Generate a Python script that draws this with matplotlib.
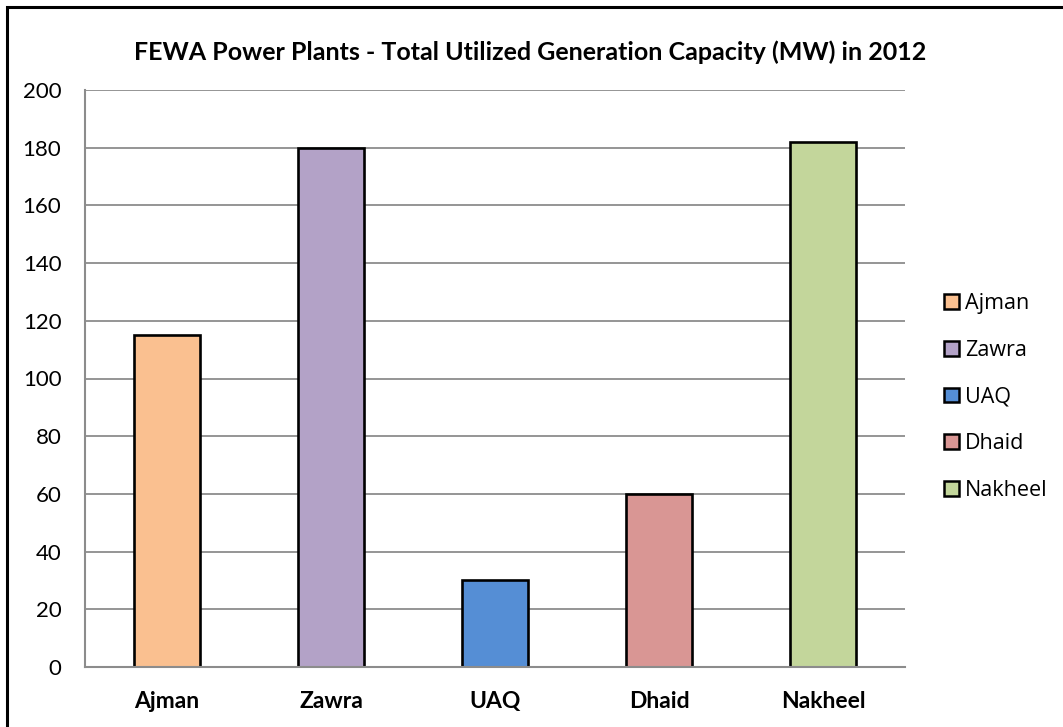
import matplotlib
matplotlib.use("Agg")
import matplotlib.pyplot as plt
from matplotlib.patches import Patch, Rectangle

categories = ["Ajman", "Zawra", "UAQ", "Dhaid", "Nakheel"]
values = [115, 180, 30, 60, 182]
colors = ["#FAC090", "#B3A2C7", "#558ED5", "#D99694", "#C3D69B"]
yticks = [0, 20, 40, 60, 80, 100, 120, 140, 160, 180, 200]
title = "FEWA Power Plants - Total Utilized Generation Capacity (MW) in 2012"

W, H = 1063, 727
fig = plt.figure(figsize=(W / 100, H / 100), dpi=100)
fig.patch.set_facecolor("white")

# outer chart border (only top and left visible in reference)
fig.patches.append(Rectangle((7 / W, -0.1), 1.2, (H - 7) / H + 0.1,
                             transform=fig.transFigure, fill=False,
                             edgecolor="black", linewidth=2.2))

ax = fig.add_axes([85 / W, (H - 667) / H, 820 / W, 577 / H])
x = list(range(len(categories)))
ax.bar(x, values, width=0.4, color=colors, edgecolor="black", linewidth=1.9, zorder=3)
ax.set_xlim(-0.5, len(categories) - 0.5)
ax.set_ylim(0, 200)
ax.set_yticks(yticks)
ax.set_yticklabels([str(v) for v in yticks], fontfamily="Lato", fontsize=16)
ax.set_xticks(x)
ax.set_xticklabels(categories, fontfamily="Lato", fontsize=16.5, fontweight="bold")
ax.tick_params(axis="y", length=0, pad=17)
ax.tick_params(axis="x", length=0, pad=17)
ax.grid(axis="y", color="#8C8C8C", linewidth=1.3, zorder=0)
for s in ["top", "right"]:
    ax.spines[s].set_visible(False)
for s in ["left", "bottom"]:
    ax.spines[s].set_color("#8C8C8C")
    ax.spines[s].set_linewidth(1.5)
    ax.spines[s].set_zorder(4)

fig.text(530 / W, 1 - 52 / H, title, ha="center", va="center",
         fontfamily="Lato", fontweight="bold", fontsize=18)

handles = [Patch(facecolor=c, edgecolor="black", linewidth=1.8) for c in colors]
leg = fig.legend(handles, categories, loc="center left",
                 bbox_to_anchor=(944 / W, 1 - 397 / H),
                 frameon=False, prop={"family": "Open Sans", "size": 15.5},
                 handlelength=0.68, handleheight=0.68, handletextpad=0.3,
                 labelspacing=1.2, borderpad=0, borderaxespad=0)

fig.savefig("out.png", dpi=100)
